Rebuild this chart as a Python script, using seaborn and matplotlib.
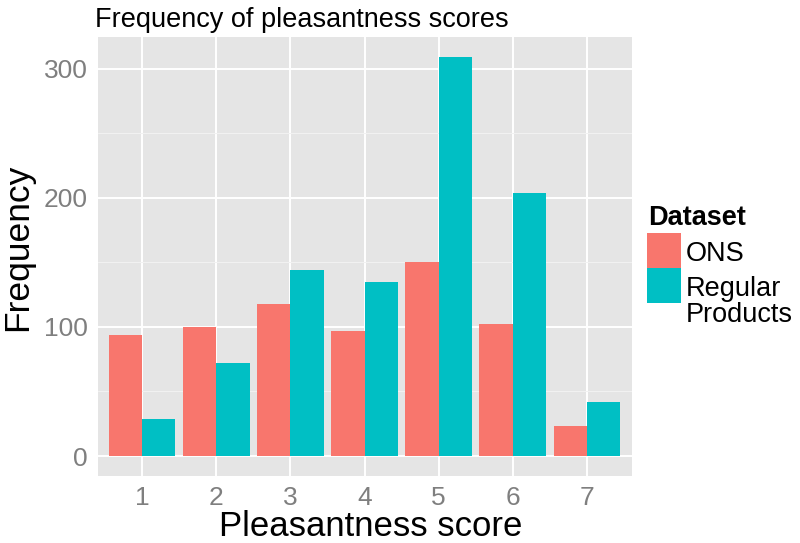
import numpy as np
import pandas as pd
import matplotlib
matplotlib.use('Agg')
import matplotlib.pyplot as plt
from matplotlib.patches import Rectangle
from matplotlib.ticker import MultipleLocator
import seaborn as sns

# ── data ────────────────────────────────────────────────────────────────────
scores      = [1, 2, 3, 4, 5, 6, 7]
ons_freq    = [94, 100, 118, 97, 150, 102, 23]
regular_freq = [29, 72, 144, 135, 309, 204, 42]
datasets    = ['ONS', 'Regular\nProducts']
colors      = ['#F8766D', '#00BFC4']

W, H = 800, 543

df = pd.DataFrame({
    'score':     [str(s) for s in scores] * 2,
    'Frequency': ons_freq + regular_freq,
    'Dataset':   [datasets[0]] * len(scores) + [datasets[1]] * len(scores),
})

sns.set_style('white')
plt.rcParams['font.family'] = ['Liberation Sans', 'DejaVu Sans']
plt.rcParams['text.color'] = 'black'
plt.rcParams['axes.labelcolor'] = 'black'

fig = plt.figure(figsize=(W / 100, H / 100), dpi=100)
# panel box in pixels: left 97.5, right 631.5, top 37, bottom 476
ax = fig.add_axes([97.5 / W, 1 - 476 / H, 534 / W, 439 / H])
ax.set_facecolor('#E5E5E5')

sns.barplot(data=df, x='score', y='Frequency', hue='Dataset',
            hue_order=datasets, palette=colors, width=0.9,
            saturation=1, linewidth=0, legend=False, ax=ax, zorder=3)

ymax = max(max(ons_freq), max(regular_freq))
ax.set_ylim(-0.05 * ymax, 1.05 * ymax)
ax.set_xlim(-0.6, len(scores) - 0.4)

ax.yaxis.set_major_locator(MultipleLocator(100))
ax.yaxis.set_minor_locator(MultipleLocator(50))
ax.grid(which='major', color='white', linewidth=1.4, zorder=1)
ax.grid(which='minor', axis='y', color='#F2F2F2', linewidth=0.7, zorder=0)
ax.set_axisbelow(True)
for sp in ax.spines.values():
    sp.set_visible(False)

ax.tick_params(which='major', length=5.5, width=1.0, color='#7F7F7F',
               labelcolor='#7F7F7F', labelsize=19, pad=1.5)
ax.tick_params(which='minor', length=0)

ax.set_xlabel('Pleasantness score', fontsize=25, labelpad=0.5)
ax.xaxis.label.set_x(0.512)
ax.set_ylabel('Frequency', fontsize=25.5, labelpad=7)
ax.yaxis.label.set_y(0.52)
ax.set_title('Frequency of pleasantness scores', fontsize=19.5,
             loc='left', pad=7, x=-0.004)

# ── legend (ggplot style, keys stacked) ─────────────────────────────────────
fig.text(648 / W, 1 - 225 / H, 'Dataset', fontsize=19.5, fontweight='bold',
         ha='left', va='baseline')
key = 34
for i, (lab, col) in enumerate(zip(datasets, colors)):
    top = 233.5 + i * (key + 1)
    fig.patches.append(Rectangle((647 / W, 1 - (top + key) / H), key / W, key / H,
                                 transform=fig.transFigure, facecolor=col,
                                 edgecolor='none'))
    fig.text(686 / W, 1 - (top + 8) / H, lab, fontsize=19.5,
             ha='left', va='top', linespacing=1.0)

fig.savefig('out.png', dpi=100)
